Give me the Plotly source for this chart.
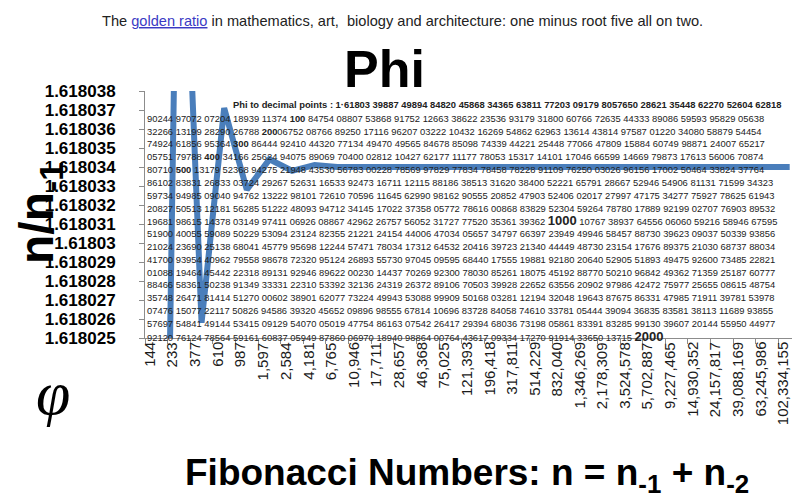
import plotly.graph_objects as go

# ---------------- data ----------------
fib_labels = ["144", "233", "377", "610", "987", "1,597", "2,584", "4,181", "6,765",
              "10,946", "17,711", "28,657", "46,368", "75,025", "121,393", "196,418",
              "317,811", "514,229", "832,040", "1,346,269", "2,178,309", "3,524,578",
              "5,702,887", "9,227,465", "14,930,352", "24,157,817", "39,088,169",
              "63,245,986", "102,334,155"]
ratio_values = [1.6179775, 1.6180556, 1.6180258, 1.6180371, 1.6180328, 1.6180344,
                1.6180338, 1.6180341, 1.6180340, 1.6180340, 1.6180340, 1.6180340,
                1.6180340, 1.6180340, 1.6180340, 1.6180340, 1.6180340, 1.6180340,
                1.6180340, 1.6180340, 1.6180340, 1.6180340, 1.6180340, 1.6180340,
                1.6180340, 1.6180340, 1.6180340, 1.6180340, 1.6180340]
y_tick_values = [1.618025, 1.618026, 1.618027, 1.618028, 1.618029, 1.618030, 1.618031,
                 1.618032, 1.618033, 1.618034, 1.618035, 1.618036, 1.618037, 1.618038]
y_tick_labels = ["1.618025", "1.618026", "1.618027", "1.618028", "1.618029", "1.61803",
                 "1.618031", "1.618032", "1.618033", "1.618034", "1.618035", "1.618036",
                 "1.618037", "1.618038"]

phi_header = ("Phi to decimal points : 1·61803 39887 49894 84820 45868 34365 63811 77203 "
              "09179 80576<b>50</b> 28621 35448 62270 52604 62818")
phi_rows = [
    "90244 97072 07204 18939 11374 <b>100</b> 84754 08807 53868 91752 12663 38622 23536 93179 31800 60766 72635 44333 89086 59593 95829 05638",
    "32266 13199 28290 26788 <b>200</b>06752 08766 89250 17116 96207 03222 10432 16269 54862 62963 13614 43814 97587 01220 34080 58879 54454",
    "74924 61856 95364 <b>300</b> 86444 92410 44320 77134 49470 49565 84678 85098 74339 44221 25448 77066 47809 15884 60749 98871 24007 65217",
    "05751 79788 <b>400</b> 34166 25624 94075 89069 70400 02812 10427 62177 11177 78053 15317 14101 17046 66599 14669 79873 17613 56006 70874",
    "80710 <b>500</b> 13179 52368 94275 21948 43530 56783 00228 78569 97829 77834 78458 78228 91109 76250 03026 96156 17002 50464 33824 37764",
    "86102 83831 26833 03724 29267 52631 16533 92473 16711 12115 88186 38513 31620 38400 52221 65791 28667 52946 54906 81131 71599 34323",
    "59734 94985 09040 94762 13222 98101 72610 70596 11645 62990 98162 90555 20852 47903 52406 02017 27997 47175 34277 75927 78625 61943",
    "20827 50513 12181 56285 51222 48093 94712 34145 17022 37358 05772 78616 00868 83829 52304 59264 78780 17889 92199 02707 76903 89532",
    "19681 98615 14378 03149 97411 06926 08867 42962 26757 56052 31727 77520 35361 39362 <span style='font-size:13px'><b>1000</b></span> 10767 38937 64556 06060 59216 58946 67595",
    "51900 40055 59089 50229 53094 23124 82355 21221 24154 44006 47034 05657 34797 66397 23949 49946 58457 88730 39623 09037 50339 93856",
    "21024 23690 25138 68041 45779 95698 12244 57471 78034 17312 64532 20416 39723 21340 44449 48730 23154 17676 89375 21030 68737 88034",
    "41700 93954 40962 79558 98678 72320 95124 26893 55730 97045 09595 68440 17555 19881 92180 20640 52905 51893 49475 92600 73485 22821",
    "01088 19464 45442 22318 89131 92946 89622 00230 14437 70269 92300 78030 85261 18075 45192 88770 50210 96842 49362 71359 25187 60777",
    "88466 58361 50238 91349 33331 22310 53392 32136 24319 26372 89106 70503 39928 22652 63556 20902 97986 42472 75977 25655 08615 48754",
    "35748 26471 81414 51270 00602 38901 62077 73224 49943 53088 99909 50168 03281 12194 32048 19643 87675 86331 47985 71911 39781 53978",
    "07476 15077 22117 50826 94586 39320 45652 09896 98555 67814 10696 83728 84058 74610 33781 05444 39094 36835 83581 38113 11689 93855",
    "57697 54841 49144 53415 09129 54070 05019 47754 86163 07542 26417 29394 68036 73198 05861 83391 83285 99130 39607 20144 55950 44977",
    "92120 76124 78564 59161 60837 05949 87860 06970 18940 98864 00764 43617 09334 17270 91914 33650 13715 <span style='font-size:13px'><b>2000</b></span>",
]

top_text = ("The <a href='https://en.wikipedia.org/wiki/Golden_ratio' "
            "style='color:#3a3ac4;text-decoration:underline'>golden ratio</a> in mathematics, art,  "
            "biology and architecture: one minus root five all on two.")
chart_title = "<b>Phi</b>"
y_title = "<b>n/n<sub>-1</sub></b>"
x_title = "<b>Fibonacci Numbers: n = n<sub>-1</sub> + n<sub>-2</sub></b>"
phi_symbol = "<i>φ</i>"

# ---------------- layout geometry (pixels) ----------------
W, H = 800, 498
L, R, T, B = 137, 793, 83, 330
PW, PH = R - L, B - T


def px(x):
    return (x - L) / PW


def py(y):
    return (B - y) / PH


FONT = "Liberation Sans, Arial, sans-serif"

fig = go.Figure()
fig.add_trace(go.Scatter(
    x=fib_labels, y=ratio_values, mode="lines",
    line=dict(color="#4a7ebb", width=6),
    hoverinfo="x+y",
))

annotations = []
# top text
annotations.append(dict(text=top_text, x=px(394), y=py(13), xref="paper", yref="paper",
                        xanchor="center", yanchor="middle", showarrow=False,
                        font=dict(family=FONT, size=14.6, color="#222222")))
# title
annotations.append(dict(text=chart_title, x=px(376), y=py(61), xref="paper", yref="paper",
                        xanchor="center", yanchor="middle", showarrow=False,
                        font=dict(family=FONT, size=52, color="#000000")))
# y title
annotations.append(dict(text=y_title, x=px(32), y=py(205), xref="paper", yref="paper",
                        xanchor="center", yanchor="middle", showarrow=False, textangle=-90,
                        font=dict(family=FONT, size=48, color="#000000")))
# phi symbol
annotations.append(dict(text=phi_symbol, x=px(45), y=py(385), xref="paper", yref="paper",
                        xanchor="center", yanchor="middle", showarrow=False,
                        font=dict(family="Liberation Serif, serif", size=62, color="#000000")))
# x title
annotations.append(dict(text=x_title, x=px(459), y=py(467), xref="paper", yref="paper",
                        xanchor="center", yanchor="middle", showarrow=False,
                        font=dict(family=FONT, size=37, color="#000000")))
# x category labels (rotated), placed on the category axis by category index
for i, lab in enumerate(fib_labels):
    annotations.append(dict(text=lab, x=i, xref="x", y=py(333), yref="paper",
                            xanchor="center", yanchor="top", showarrow=False,
                            textangle=-90, borderpad=0, xshift=-7,
                            font=dict(family=FONT, size=15, color="#1a1a1a")))
# phi digits block
annotations.append(dict(text="<b>" + phi_header + "</b>", x=px(224), y=py(96.5),
                        xref="paper", yref="paper", xanchor="left", yanchor="middle",
                        showarrow=False, borderpad=0,
                        font=dict(family=FONT, size=9.4, color="#222222")))
for i, row in enumerate(phi_rows):
    annotations.append(dict(text=row, x=px(137.5), y=py(110.3 + i * 12.82),
                            xref="paper", yref="paper", xanchor="left", yanchor="middle",
                            showarrow=False, borderpad=0,
                            font=dict(family=FONT, size=9.4, color="#222222")))

fig.update_layout(
    width=W, height=H,
    margin=dict(l=L, r=W - R, t=T, b=H - B, pad=0),
    paper_bgcolor="white", plot_bgcolor="white",
    showlegend=False,
    annotations=annotations,
    xaxis=dict(
        type="category", showgrid=False, zeroline=False,
        showline=True, linecolor="#8c8c8c", linewidth=1,
        ticks="outside", tickson="boundaries", ticklen=5, tickcolor="#8c8c8c",
        showticklabels=False,
        range=[-0.5, len(fib_labels) - 0.5],
    ),
    yaxis=dict(
        range=[1.618025, 1.618038], showgrid=False, zeroline=False,
        showline=True, linecolor="#8c8c8c", linewidth=1,
        ticks="outside", ticklen=5, tickcolor="#8c8c8c",
        tickvals=y_tick_values, ticktext=y_tick_labels,
        tickfont=dict(family=FONT, size=17, color="#000000", weight="bold"),
        ticklabelstandoff=20,
    ),
)

fig.write_html("out.html")
